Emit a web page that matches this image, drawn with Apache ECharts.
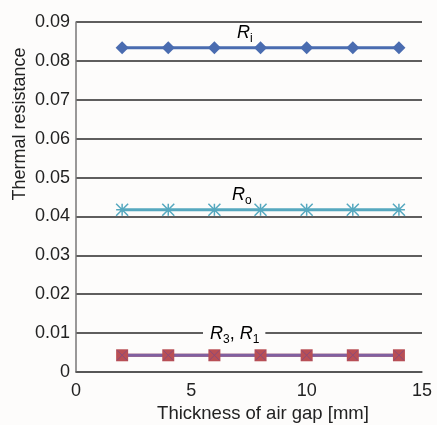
<!DOCTYPE html>
<html>
<head>
<meta charset="utf-8">
<script src="https://cdn.jsdelivr.net/npm/echarts@6/dist/echarts.min.js"></script>
<style>
  html, body { margin: 0; padding: 0; background: #fdfcfb; }
  #chart { width: 437px; height: 425px; }
</style>
</head>
<body>
<div id="chart"></div>
<script>
// air gap thickness [mm]
const gapMm = [2, 4, 6, 8, 10, 12, 14]
// thermal resistance values
const rInner = [0.0834, 0.0834, 0.0834, 0.0834, 0.0834, 0.0834, 0.0834]
const rOuter = [0.0417, 0.0417, 0.0417, 0.0417, 0.0417, 0.0417, 0.0417]
const r3 = [0.0043, 0.0043, 0.0043, 0.0043, 0.0043, 0.0043, 0.0043]
const r1 = [0.0043, 0.0043, 0.0043, 0.0043, 0.0043, 0.0043, 0.0043]

const pairs = (ys) => gapMm.map((x, i) => [x, ys[i]])

const font = 'Liberation Sans, Arial, sans-serif'
const bg = '#fdfcfb'
const starPath = 'path://M0,0L10,10M10,0L0,10M5,0L5,10M0,5L10,5'
const crossPath = 'path://M0,0L10,10M10,0L0,10'

const rich = {
  r: { fontStyle: 'italic', fontSize: 18, fontFamily: font, color: '#222' },
  s: { fontSize: 12, fontFamily: font, color: '#222', padding: [12, 0, 0, 0] },
  c: { fontSize: 18, fontFamily: font, color: '#222' },
}

let myChart = echarts.init(document.getElementById('chart'))

let options = {
  backgroundColor: bg,
  animation: false,
  grid: { left: 76, right: 15, top: 22, bottom: 53, outerBoundsMode: 'none' },
  xAxis: {
    type: 'value',
    min: 0,
    max: 15,
    interval: 5,
    name: 'Thickness of air gap [mm]',
    nameLocation: 'middle',
    nameGap: 29,
    nameTextStyle: {
      fontSize: 18.5,
      color: '#222',
      fontFamily: font,
      padding: [0, 0, 0, 28],
    },
    axisLine: { show: true, lineStyle: { color: '#555', width: 1.5 } },
    axisTick: { show: false },
    splitLine: { show: false },
    axisLabel: { fontSize: 18, color: '#222', fontFamily: font, margin: 10 },
  },
  yAxis: {
    type: 'value',
    min: 0,
    max: 0.09,
    interval: 0.01,
    axisLine: { show: true, lineStyle: { color: '#777', width: 1.5 } },
    axisTick: { show: false },
    splitLine: { show: true, lineStyle: { color: '#2a2a2a', width: 1.6 } },
    axisLabel: {
      fontSize: 18,
      color: '#222',
      fontFamily: font,
      margin: 6,
      formatter: (v) => (v === 0 ? '0' : v.toFixed(2)),
    },
  },
  graphic: [
    {
      type: 'text',
      x: 20,
      y: 124,
      rotation: Math.PI / 2,
      style: {
        text: 'Thermal resistance',
        font: '18px ' + font,
        fill: '#222',
        align: 'center',
        verticalAlign: 'middle',
      },
    },
    {
      type: 'text',
      z: 100,
      x: 237,
      y: 21,
      style: { text: '{r|R}{s|i}', rich: rich },
    },
    {
      type: 'text',
      z: 100,
      x: 232,
      y: 183,
      style: { text: '{r|R}{s|o}', rich: rich },
    },
    {
      type: 'text',
      z: 100,
      x: 203,
      y: 322,
      style: {
        text: '{r|R}{s|3}{c|, }{r|R}{s|1}',
        rich: rich,
        backgroundColor: bg,
        padding: [0, 6, 0, 7],
      },
    },
  ],
  series: [
    {
      name: 'Ri',
      type: 'line',
      data: pairs(rInner),
      symbol: 'diamond',
      symbolSize: 13,
      lineStyle: { color: '#4a6cb0', width: 3 },
      itemStyle: { color: '#4a6cb0' },
    },
    {
      name: 'Ro',
      type: 'line',
      data: pairs(rOuter),
      symbol: starPath,
      symbolSize: 12,
      lineStyle: { color: '#56a8bf', width: 3 },
      itemStyle: { color: '#56a8bf', borderColor: '#56a8bf', borderWidth: 1.5 },
    },
    {
      name: 'R3',
      type: 'line',
      data: pairs(r3),
      symbol: 'rect',
      symbolSize: 12,
      lineStyle: { color: '#b94f55', width: 3 },
      itemStyle: { color: '#b94f55' },
    },
    {
      name: 'R1',
      type: 'line',
      data: pairs(r1),
      symbol: crossPath,
      symbolSize: 10,
      lineStyle: { color: '#8060a0', width: 3 },
      itemStyle: { color: '#8060a0', borderColor: '#8a4a7a', borderWidth: 1 },
    },
  ],
}

myChart.setOption(options)
</script>
</body>
</html>
